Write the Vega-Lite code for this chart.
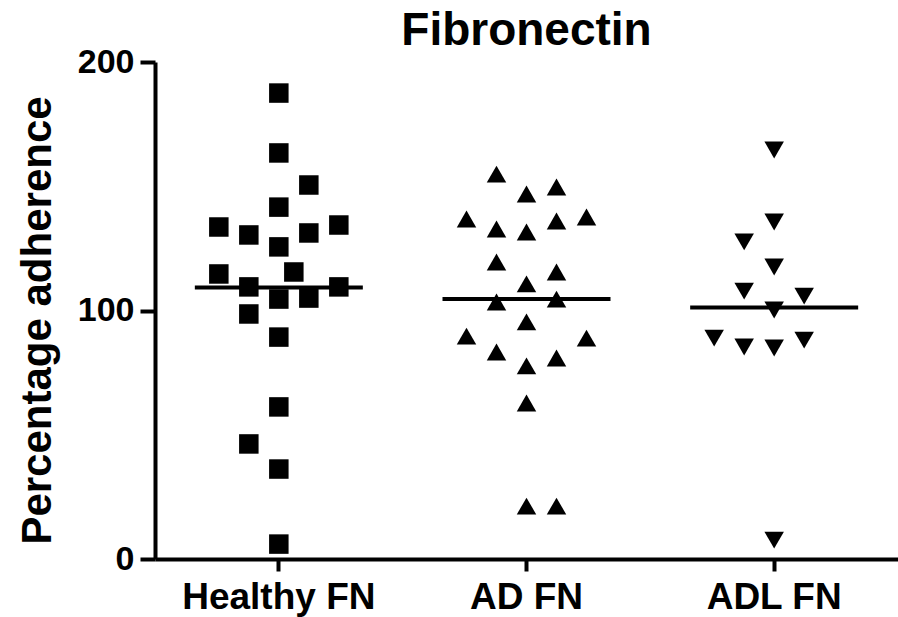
{
  "$schema": "https://vega.github.io/schema/vega-lite/v6.json",
  "autosize": {"type": "none"},
  "padding": {"left": 155, "top": 62, "right": 0, "bottom": 58},
  "width": 743,
  "height": 497,
  "background": "white",
  "title": {"text": "Fibronectin", "anchor": "middle", "frame": "group", "fontSize": 46, "fontWeight": "bold", "font": "Liberation Sans", "color": "black", "baseline": "alphabetic", "offset": 16, "dy": 62},
  "data": {"values": [
    {"group": "Healthy FN", "slot": 0, "value": 187.5},
    {"group": "Healthy FN", "slot": 0, "value": 163.4},
    {"group": "Healthy FN", "slot": 1, "value": 150.5},
    {"group": "Healthy FN", "slot": 0, "value": 141.6},
    {"group": "Healthy FN", "slot": -2, "value": 133.6},
    {"group": "Healthy FN", "slot": -1, "value": 130.4},
    {"group": "Healthy FN", "slot": 1, "value": 131.2},
    {"group": "Healthy FN", "slot": 2, "value": 134.4},
    {"group": "Healthy FN", "slot": 0, "value": 125.6},
    {"group": "Healthy FN", "slot": -2, "value": 114.7},
    {"group": "Healthy FN", "slot": 0.5, "value": 115.5},
    {"group": "Healthy FN", "slot": -1, "value": 109.5},
    {"group": "Healthy FN", "slot": 2, "value": 109.5},
    {"group": "Healthy FN", "slot": 0, "value": 104.6},
    {"group": "Healthy FN", "slot": 1, "value": 105.0},
    {"group": "Healthy FN", "slot": -1, "value": 98.6},
    {"group": "Healthy FN", "slot": 0, "value": 89.3},
    {"group": "Healthy FN", "slot": 0, "value": 61.2},
    {"group": "Healthy FN", "slot": -1, "value": 46.3},
    {"group": "Healthy FN", "slot": 0, "value": 36.2},
    {"group": "Healthy FN", "slot": 0, "value": 6.0},
    {"group": "AD FN", "slot": -1, "value": 154.9},
    {"group": "AD FN", "slot": 0, "value": 146.9},
    {"group": "AD FN", "slot": 1, "value": 149.7},
    {"group": "AD FN", "slot": -2, "value": 136.8},
    {"group": "AD FN", "slot": -1, "value": 132.8},
    {"group": "AD FN", "slot": 0, "value": 131.6},
    {"group": "AD FN", "slot": 1, "value": 136.0},
    {"group": "AD FN", "slot": 2, "value": 137.6},
    {"group": "AD FN", "slot": -1, "value": 119.5},
    {"group": "AD FN", "slot": 1, "value": 115.5},
    {"group": "AD FN", "slot": 0, "value": 110.7},
    {"group": "AD FN", "slot": -1, "value": 103.4},
    {"group": "AD FN", "slot": 1, "value": 104.6},
    {"group": "AD FN", "slot": 0, "value": 95.4},
    {"group": "AD FN", "slot": -2, "value": 89.7},
    {"group": "AD FN", "slot": 2, "value": 88.9},
    {"group": "AD FN", "slot": -1, "value": 83.3},
    {"group": "AD FN", "slot": 0, "value": 77.7},
    {"group": "AD FN", "slot": 1, "value": 80.9},
    {"group": "AD FN", "slot": 0, "value": 62.8},
    {"group": "AD FN", "slot": 0, "value": 21.3},
    {"group": "AD FN", "slot": 1, "value": 21.3},
    {"group": "ADL FN", "slot": 0, "value": 164.6},
    {"group": "ADL FN", "slot": 0, "value": 135.6},
    {"group": "ADL FN", "slot": -1, "value": 127.6},
    {"group": "ADL FN", "slot": 0, "value": 117.5},
    {"group": "ADL FN", "slot": -1, "value": 107.8},
    {"group": "ADL FN", "slot": 1, "value": 105.8},
    {"group": "ADL FN", "slot": 0, "value": 100.2},
    {"group": "ADL FN", "slot": -2, "value": 88.9},
    {"group": "ADL FN", "slot": -1, "value": 85.3},
    {"group": "ADL FN", "slot": 0, "value": 84.9},
    {"group": "ADL FN", "slot": 1, "value": 88.1},
    {"group": "ADL FN", "slot": 0, "value": 7.6}
  ]},
  "encoding": {
    "x": {
      "field": "group", "type": "nominal", "sort": ["Healthy FN", "AD FN", "ADL FN"],
      "scale": {"paddingInner": 0, "paddingOuter": 0},
      "axis": {"title": null, "labelAngle": 0, "labelLimit": 0, "labelFontSize": 37, "labelFontWeight": "bold", "labelFont": "Liberation Sans", "labelColor": "black", "labelPadding": 8, "tickSize": 12, "tickWidth": 4, "tickColor": "black", "domainWidth": 4, "domainColor": "black", "grid": false}
    },
    "y": {
      "field": "value", "type": "quantitative",
      "scale": {"domain": [0, 200], "nice": false, "zero": true},
      "axis": {"title": "Percentage adherence", "titleFontSize": 42, "titleFontWeight": "bold", "titleFont": "Liberation Sans", "titleColor": "black", "titlePadding": 18, "titleY": 258, "values": [0, 100, 200], "labelFontSize": 34, "labelFontWeight": "bold", "labelFont": "Liberation Sans", "labelColor": "black", "labelPadding": 6, "tickSize": 15, "tickWidth": 4, "tickColor": "black", "domainWidth": 4, "domainColor": "black", "grid": false}
    }
  },
  "layer": [
    {
      "mark": {"type": "point", "filled": true, "opacity": 1, "color": "black", "size": 380},
      "encoding": {
        "xOffset": {"field": "slot", "type": "quantitative", "scale": {"domain": [-2, 2], "range": [63.83, 183.83]}},
        "shape": {"field": "group", "type": "nominal", "sort": ["Healthy FN", "AD FN", "ADL FN"], "scale": {"domain": ["Healthy FN", "AD FN", "ADL FN"], "range": ["square", "triangle-up", "triangle-down"]}, "legend": null}
      }
    },
    {
      "mark": {"type": "tick", "color": "black", "thickness": 4, "size": 168, "opacity": 1},
      "encoding": {
        "y": {"aggregate": "mean", "field": "value", "type": "quantitative"}
      }
    }
  ],
  "config": {"view": {"stroke": null}}
}
